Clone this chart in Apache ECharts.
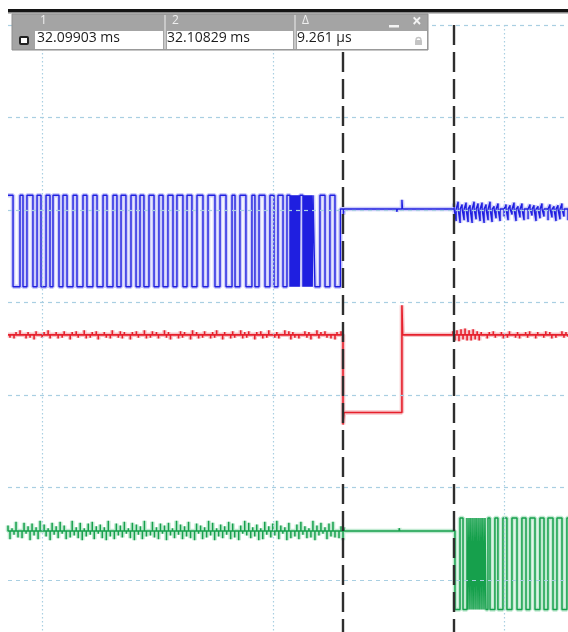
<!DOCTYPE html>
<html>
<head>
<meta charset="utf-8">
<script src="https://cdn.jsdelivr.net/npm/echarts@6/dist/echarts.min.js"></script>
<style>
  html, body { margin: 0; padding: 0; background: #fff; }
  #chart { width: 568px; height: 632px; }
</style>
</head>
<body>
<div id="chart"></div>
<script>
// Capture window: time in µs from the left edge of the screen, levels in divisions
const T_START = 0;
const T_END = 46.67;
const LEVEL_MIN = -0.5622;
const LEVEL_MAX = 6.1405;

// Graticule
const gridTimes = [2.83, 22.08, 41.33];
const gridLevels = [0, 1, 2, 3, 4, 5, 6];

// Cursor readout
const cursorLabels = ['1', '2', 'Δ'];
const cursorReadouts = ['32.09903 ms', '32.10829 ms', '9.261 μs'];
const cursor1 = 27.92;
const cursorDelta = 9.261;
const cursor2 = cursor1 + cursorDelta;

// Channel A (blue): burst, idle, then ripple
const blueHigh = 4.16, blueLow = 3.17, blueIdle = 4.01;
const blueEdges = [0.42, 1.0, 1.25, 1.58, 2.08, 2.42, 2.75, 3.17, 3.5, 3.75,
  4.25, 4.58, 4.92, 5.42, 5.75, 6.25, 6.58, 7.08, 7.42, 7.92,
  8.25, 8.75, 9.08, 9.42, 9.83, 10.25, 10.67, 11.0, 11.33, 11.75,
  12.17, 12.58, 12.92, 13.33, 13.75, 14.08, 14.58, 14.92, 15.33, 15.75,
  16.25, 16.67, 17.25, 17.67, 18.17, 18.67, 18.92, 19.33, 19.83, 20.33,
  20.58, 20.92, 21.42, 21.83, 22.17, 22.5, 22.92, 23.25,
  23.5, 23.55, 23.61, 23.66, 23.72, 23.77, 23.83, 23.88, 23.94, 23.99,
  24.05, 24.1, 24.16, 24.21, 24.27, 24.33,
  24.58, 24.63, 24.69, 24.74, 24.8, 24.85, 24.91, 24.96, 25.02, 25.07,
  25.13, 25.18, 25.24, 25.29, 25.35, 25.42,
  25.58, 26.0, 26.42, 26.83, 27.25];
const blueIdleFrom = 27.7;
const blueBlips = [[27.95, -0.06], [32.4, -0.03], [32.83, 0.1]];
const blueRipple = [6, -13, 8, -15, 5, -12, 7, -14, 4, -15, 8, -11, 6, -13, 7, -15, 5, -12, 8, -14,
  3, -10, 6, -13, 2, -8, 5, -12, 4, -6, 7, -13, 3, -9, 6, -12, 2, -11, 5, -7,
  4, -13, 3, -10, 6, -8, 2, -12, 5, -9, 3, -13, 4, -11, 6, -8, 2, -12];

// Channel B (red): noisy idle, step down, step up, noisy idle
const redIdle = 2.65, redLow = 1.81, redDip = 1.68, redOvershoot = 2.97;
const redStepUp = 32.83;
const redNoiseA = [2, -3, 1, -4, 3, -2, 5, -1, 2, -4, 3, -3,
  1, -5, 4, -2, 2, -3, 3, -1, 5, -4, 2, -2,
  3, -4, 1, -3, 4, -2, 2, -5, 3, -1, 4, -3,
  2, -2, 5, -4, 1, -3, 3, -2, 4, -5, 2, -1,
  3, -3, 2, -4, 5, -2, 1, -3, 4, -4, 3, -2,
  2, -5, 3, -1, 4, -3, 2, -2, 5, -4, 1, -3,
  4, -2, 3, -4, 2, -1, 5, -3, 3, -5, 2, -2,
  1, -4, 4, -3, 3, -2, 2, -5, 5, -1, 3, -4,
  2, -3, 4, -2, 1, -4, 3, -3, 5, -2, 2, -5,
  3, -1, 2, -4, 4, -3, 1, -2, 5, -4, 3, -3,
  4, -2, 2, -5, 3, -1, 4, -4, 2, -3, 5, -2,
  1, -3, 3, -4, 2, -2, 5, -1, 4, -5, 3, -3,
  2, -4, 1, -2, 4, -3, 3, -5, 2, -1, 5, -4,
  3, -2, 4, -3, 2, -4, 1, -5, 3, -2, 4, -3];
const redLowRipple = [0, 1, -1, 0, 1, 0, -1, 1, 0];
const redNoiseB = [4, -6, 5, -7, 6, -5, 7, -6, 5, -6, 6, -5, 4, -6,
  3, -2, 2, -4, 3, -1, 4, -3, 2, -2, 3, -4, 1, -3,
  4, -2, 2, -3, 3, -4, 2, -1, 3, -3, 4, -2, 2, -4,
  3, -1, 2, -3, 4, -2, 3, -4, 1, -3, 2, -2, 4, -3,
  3, -2];

// Channel C (green): noisy idle, quiet, then burst
const greenIdle = 0.53, greenHigh = 0.67, greenLow = -0.32;
const greenNoiseA = [6, -9, 3, -4, 10, -7, 2, -8, 9, -3, 5, -10,
  8, -5, 4, -9, 11, -2, 7, -6, 3, -10, 9, -4,
  5, -8, 10, -3, 6, -9, 2, -7, 11, -5, 4, -8,
  9, -10, 3, -6, 8, -4, 10, -9, 5, -3, 7, -8,
  4, -10, 11, -6, 2, -9, 8, -5, 6, -7, 10, -3,
  3, -8, 9, -10, 7, -4, 5, -9, 11, -6, 2, -5,
  10, -7, 4, -9, 8, -3, 6, -10, 9, -5, 3, -8,
  11, -4, 7, -9, 5, -6, 10, -8, 2, -10, 8, -3,
  6, -9, 4, -7, 11, -5, 9, -10, 3, -6, 7, -8,
  5, -4, 10, -9, 8, -7, 2, -10, 6, -3, 11, -5,
  9, -8, 4, -6, 7, -10, 3, -9, 10, -4, 5, -7,
  8, -5, 11, -9, 6, -3, 4, -10, 9, -8, 2, -6,
  7, -9, 10, -4, 5, -8, 3, -7, 11, -10, 6, -5,
  9, -3, 4, -9, 8, -6, 10, -7, 2, -8, 5, -10];
const greenEdges = [37.25, 37.67, 37.92,
  38.25, 38.33, 38.42, 38.5, 38.58, 38.67, 38.75, 38.83, 38.92, 39.0,
  39.08, 39.17, 39.25, 39.33, 39.42, 39.5, 39.58, 39.67, 39.75, 39.83,
  40.0, 40.17, 40.58, 40.83, 41.25, 41.58, 42.0,
  42.42, 42.83, 43.17, 43.5, 43.92, 44.33, 44.67, 45.0, 45.42, 45.75, 46.17, 46.58];

// ---- trace builders ----
// Noise drawn as sample spikes off a baseline, samples spread evenly over [t0, t1]
function noiseSeg(t0, t1, center, offsets) {
  const n = offsets.length;
  const pts = [];
  offsets.forEach((o, i) => {
    const t = t0 + (t1 - t0) * i / (n - 1);
    pts.push([t, center]);
    if (o !== 0) pts.push([t, center + o / 100], [t, center]);
  });
  return pts;
}
function steps(t0, startLevel, edges, levels, startIdx) {
  const pts = [[t0, startLevel]];
  let idx = startIdx, cur = startLevel;
  edges.forEach(e => {
    pts.push([e, cur]);
    cur = levels[idx % 2];
    idx++;
    pts.push([e, cur]);
  });
  return { pts, cur };
}
function blips(center, list) {
  const pts = [];
  list.forEach(([t, a]) => { pts.push([t, center], [t, center + a], [t + 0.05, center]); });
  return pts;
}

// Blue
const bBurst = steps(T_START, blueHigh, blueEdges, [blueLow, blueHigh], 0);
const bluePts = bBurst.pts
  .concat([[blueIdleFrom, bBurst.cur], [blueIdleFrom, blueIdle]])
  .concat(blips(blueIdle, blueBlips))
  .concat([[cursor2, blueIdle]])
  .concat(noiseSeg(cursor2, T_END, blueIdle, blueRipple));

// Red
const redPts = noiseSeg(T_START, cursor1, redIdle, redNoiseA)
  .concat([[cursor1, redIdle], [cursor1, redDip], [cursor1 + 0.08, redLow]])
  .concat(noiseSeg(cursor1 + 0.08, redStepUp, redLow, redLowRipple))
  .concat([[redStepUp, redOvershoot], [redStepUp + 0.06, redIdle], [cursor2 - 0.1, redIdle]])
  .concat(noiseSeg(cursor2 - 0.1, T_END, redIdle, redNoiseB));

// Green
const gBurst = steps(greenEdges[0], greenIdle, greenEdges, [greenLow, greenHigh], 0);
const greenPts = noiseSeg(T_START, cursor1, greenIdle, greenNoiseA)
  .concat([[cursor1 + 0.05, greenIdle]])
  .concat(blips(greenIdle, [[27.97, 0.04], [32.6, 0.03]]))
  .concat(gBurst.pts)
  .concat([[T_END, gBurst.cur]]);

function trace(name, pts, color, halo, width) {
  return [
    { name: name + '-halo', type: 'line', data: pts, showSymbol: false, silent: true, z: 3,
      animation: false,
      lineStyle: { color: halo, width: 4.5, opacity: 0.5 } },
    { name: name, type: 'line', data: pts, showSymbol: false, silent: true, z: 4,
      animation: false,
      lineStyle: { color: color, width: width } }
  ];
}

const gridColor = '#a9cfe2';
const gridLines = gridTimes.map(t => [
  { coord: [t, 6], lineStyle: { color: gridColor, width: 1.2, type: [1.5, 2.5] } },
  { coord: [t, LEVEL_MIN] }
]).concat(gridLevels.map(v => [
  { coord: [T_START, v], lineStyle: { color: gridColor, width: 1.2, type: [4, 4] } },
  { coord: [T_END, v] }
]));

const cursorStyle = { color: '#2e2e2e', width: 2.4, type: [20, 7] };
const cursorLines = [cursor1, cursor2].map(t => [
  { coord: [t, 6], lineStyle: cursorStyle },
  { coord: [t, LEVEL_MIN] }
]);

const chart = echarts.init(document.getElementById('chart'), null, { renderer: 'canvas' });

// Cursor readout panel
const font = '"Open Sans", "Noto Sans", sans-serif';
const colX = [37, 167, 297];
const headX = [40, 172, 302];
const panel = [
  { type: 'rect', shape: { x: 8, y: 9, width: 560, height: 3.5 }, style: { fill: '#141414' } },
  { type: 'rect', shape: { x: 8, y: 12.5, width: 560, height: 1 }, style: { fill: '#888' } },
  { type: 'rect', shape: { x: 12, y: 14, width: 416, height: 36 }, style: { fill: '#a4a4a4', stroke: '#8e8e8e', lineWidth: 1 } },
  { type: 'rect', shape: { x: 35, y: 31, width: 128, height: 18 }, style: { fill: '#fff' } },
  { type: 'rect', shape: { x: 167, y: 31, width: 126, height: 18 }, style: { fill: '#fff' } },
  { type: 'rect', shape: { x: 297, y: 31, width: 130, height: 18 }, style: { fill: '#fff' } },
  { type: 'line', shape: { x1: 165, y1: 15, x2: 165, y2: 49 }, style: { stroke: '#d6d6d6', lineWidth: 1.5 } },
  { type: 'line', shape: { x1: 295, y1: 15, x2: 295, y2: 49 }, style: { stroke: '#d6d6d6', lineWidth: 1.5 } },
  { type: 'rect', shape: { x: 20, y: 37, width: 8, height: 7, r: 1 }, style: { fill: '#fff', stroke: '#222', lineWidth: 2 } },
  { type: 'rect', shape: { x: 389, y: 25, width: 10, height: 2.5 }, style: { fill: '#f4f4f4' } },
  { type: 'text', x: 412, y: 14, style: { text: '×', fill: '#f4f4f4', font: 'bold 17px ' + font } },
  { type: 'rect', shape: { x: 415, y: 40, width: 7, height: 5, r: 0.5 }, style: { fill: '#c4c4c4' } },
  { type: 'arc', shape: { cx: 418.5, cy: 40, r: 2.5, startAngle: Math.PI, endAngle: 2 * Math.PI }, style: { stroke: '#c4c4c4', lineWidth: 1.3, fill: null } }
];
cursorLabels.forEach((s, i) => panel.push({
  type: 'text', x: headX[i], y: 15,
  style: { text: s, fill: '#eeeeee', font: '12px ' + font }
}));
cursorReadouts.forEach((s, i) => panel.push({
  type: 'text', x: colX[i], y: 31,
  style: { text: s, fill: '#1c1c1c', font: '14px ' + font }
}));

chart.setOption({
  animation: false,
  backgroundColor: '#ffffff',
  grid: { left: 8, right: 0, top: 12, bottom: 0, containLabel: false },
  xAxis: { type: 'value', min: T_START, max: T_END, show: false, splitLine: { show: false } },
  yAxis: { type: 'value', min: LEVEL_MIN, max: LEVEL_MAX, show: false, splitLine: { show: false } },
  series: [
    { name: 'graticule', type: 'line', data: [], silent: true, z: 1,
      markLine: { silent: true, symbol: ['none', 'none'], label: { show: false }, animation: false, data: gridLines } },
    ...trace('A', bluePts, '#1f1fe0', '#9a9af6', 1.4),
    ...trace('B', redPts, '#e6202c', '#f08a92', 1.6),
    ...trace('C', greenPts, '#16a04c', '#86d6a6', 1.5),
    { name: 'cursors', type: 'line', data: [], silent: true, z: 6,
      markLine: { silent: true, symbol: ['none', 'none'], label: { show: false }, animation: false, data: cursorLines } }
  ],
  graphic: { elements: panel.map(e => Object.assign({ z: 100, silent: true }, e)) }
});
</script>
</body>
</html>
